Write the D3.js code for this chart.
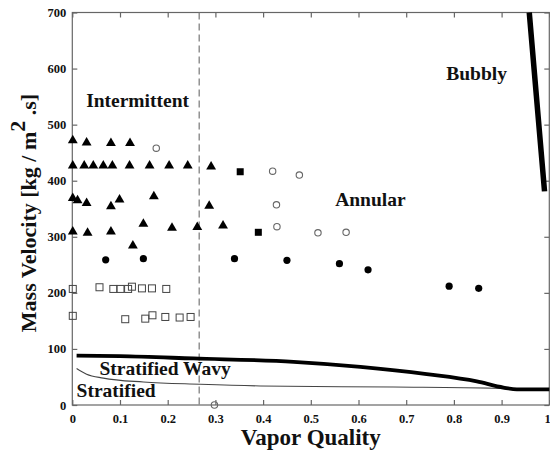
<!DOCTYPE html>
<html>
<head>
<meta charset="utf-8">
<script src="https://cdn.jsdelivr.net/npm/d3@7/dist/d3.min.js"></script>
<style>
  html, body { margin: 0; padding: 0; background: #fff; }
  svg { display: block; }
  text { font-family: "Liberation Serif", "Times New Roman", serif; font-weight: bold; fill: #111; }
</style>
</head>
<body>
<svg id="chart" width="550" height="455"></svg>
<script>
// ---------- data ----------
const xTicks = [0, 0.1, 0.2, 0.3, 0.4, 0.5, 0.6, 0.7, 0.8, 0.9, 1];
const xTickLabels = ["0", "0.1", "0.2", "0.3", "0.4", "0.5", "0.6", "0.7", "0.8", "0.9", "1"];
const yTicks = [0, 100, 200, 300, 400, 500, 600, 700];
const yTickLabels = ["0", "100", "200", "300", "400", "500", "600", "700"];

// filled triangles (intermittent data)
const triangles = [
  [0.001, 472], [0.030, 468], [0.081, 467], [0.121, 467],
  [0.001, 427], [0.025, 427], [0.044, 427], [0.065, 427], [0.084, 427],
  [0.120, 427], [0.162, 427], [0.203, 427], [0.242, 427], [0.291, 425],
  [0.001, 369], [0.011, 365], [0.030, 360], [0.081, 354], [0.099, 366],
  [0.171, 372], [0.287, 355],
  [0.001, 309], [0.032, 307], [0.081, 309], [0.149, 323], [0.209, 316],
  [0.262, 317], [0.316, 320], [0.127, 284]
];
// filled circles
const filledCircles = [
  [0.070, 259], [0.149, 261], [0.340, 261], [0.450, 258],
  [0.560, 252], [0.620, 241], [0.790, 212], [0.852, 208]
];
// open circles
const openCircles = [
  [0.176, 458], [0.420, 417], [0.476, 410], [0.428, 357],
  [0.429, 318], [0.515, 307], [0.574, 308], [0.298, 0]
];
// filled squares
const filledSquares = [[0.352, 416], [0.390, 308]];
// open squares
const openSquares = [
  [0.001, 207], [0.057, 210], [0.086, 207], [0.101, 207], [0.117, 207],
  [0.125, 211], [0.146, 208], [0.167, 208], [0.197, 207],
  [0.001, 159], [0.111, 153], [0.153, 154], [0.168, 160], [0.195, 157],
  [0.225, 156], [0.248, 157]
];
// transition boundaries
const wavyBoundary = [
  [0.009, 88], [0.10, 87], [0.254, 83], [0.464, 77], [0.604, 68],
  [0.743, 55], [0.848, 42], [0.904, 31], [0.932, 28], [1.0, 28]
];
const stratBoundary = [
  [0.009, 65], [0.030, 55], [0.065, 48], [0.149, 41], [0.268, 37],
  [0.394, 34], [0.673, 32], [0.883, 30], [0.93, 28]
];
const bubblyBoundary = [
  [0.958, 700], [0.973, 550], [0.990, 381]
];
const transitionX = 0.266;

// ---------- layout ----------
const svg = d3.select("#chart");
const x = d3.scaleLinear().domain([0, 1]).range([72.3, 549.3]);
const y = d3.scaleLinear().domain([0, 700]).range([405, 12.5]);
const frameColor = "#666";

// frame
svg.append("rect")
  .attr("x", x(0)).attr("y", y(700))
  .attr("width", x(1) - x(0)).attr("height", y(0) - y(700))
  .attr("fill", "none").attr("stroke", frameColor).attr("stroke-width", 1.2);

// axes (ticks inward on all sides)
const tickLen = 5;
const axB = svg.append("g").attr("transform", `translate(0,${y(0)})`)
  .call(d3.axisBottom(x).tickValues(xTicks).tickSize(-tickLen).tickPadding(9)
    .tickFormat((d, i) => xTickLabels[i]));
const axT = svg.append("g").attr("transform", `translate(0,${y(700)})`)
  .call(d3.axisTop(x).tickValues(xTicks).tickSize(-tickLen).tickFormat(""));
const axL = svg.append("g").attr("transform", `translate(${x(0)},0)`)
  .call(d3.axisLeft(y).tickValues(yTicks).tickSize(-tickLen).tickPadding(6)
    .tickFormat((d, i) => yTickLabels[i]));
const axR = svg.append("g").attr("transform", `translate(${x(1)},0)`)
  .call(d3.axisRight(y).tickValues(yTicks).tickSize(-tickLen).tickFormat(""));
[axB, axT, axL, axR].forEach(g => {
  g.attr("font-family", null).attr("font-size", null);
  g.select(".domain").remove();
  g.selectAll(".tick line").attr("stroke", frameColor).attr("stroke-width", 1.2);
  g.selectAll(".tick text")
    .style("font-family", "'Liberation Serif', 'Times New Roman', serif")
    .style("font-weight", "bold").style("font-size", "12.5px").attr("fill", "#111");
});
// keep the last x label inside the picture
axB.selectAll(".tick text").filter((d, i) => i === xTicks.length - 1)
  .attr("text-anchor", "end").attr("dx", 1);

// dashed transition line
svg.append("line")
  .attr("x1", x(transitionX)).attr("x2", x(transitionX))
  .attr("y1", y(700)).attr("y2", y(0))
  .attr("stroke", "#777").attr("stroke-width", 1.2)
  .attr("stroke-dasharray", "7,4");

// boundaries
const line = d3.line().x(d => x(d[0])).y(d => y(d[1])).curve(d3.curveMonotoneX);
svg.append("path").datum(stratBoundary).attr("d", line)
  .attr("fill", "none").attr("stroke", "#444").attr("stroke-width", 1.1);
svg.append("path").datum(wavyBoundary).attr("d", line)
  .attr("fill", "none").attr("stroke", "#000").attr("stroke-width", 3.8);
const lineB = d3.line().x(d => x(d[0])).y(d => y(d[1]));
svg.append("path").datum(bubblyBoundary).attr("d", lineB)
  .attr("fill", "none").attr("stroke", "#000").attr("stroke-width", 5.5);

// markers
const tri = d3.symbol().type(d3.symbolTriangle).size(42);
svg.append("g").selectAll("path").data(triangles).join("path")
  .attr("d", tri).attr("transform", d => `translate(${x(d[0])},${y(d[1])})`)
  .attr("fill", "#000");
svg.append("g").selectAll("circle").data(filledCircles).join("circle")
  .attr("cx", d => x(d[0])).attr("cy", d => y(d[1])).attr("r", 3.6).attr("fill", "#000");
svg.append("g").selectAll("circle").data(openCircles).join("circle")
  .attr("cx", d => x(d[0])).attr("cy", d => y(d[1])).attr("r", 3.2)
  .attr("fill", "none").attr("stroke", "#666").attr("stroke-width", 1.1);
svg.append("g").selectAll("rect").data(filledSquares).join("rect")
  .attr("x", d => x(d[0]) - 3.5).attr("y", d => y(d[1]) - 3.5)
  .attr("width", 7).attr("height", 7).attr("fill", "#000");
svg.append("g").selectAll("rect").data(openSquares).join("rect")
  .attr("x", d => x(d[0]) - 3.5).attr("y", d => y(d[1]) - 3.5)
  .attr("width", 7).attr("height", 7)
  .attr("fill", "none").attr("stroke", "#444").attr("stroke-width", 1);

// region labels
const regionLabels = [
  { t: "Intermittent", x: 0.029, y: 532 },
  { t: "Bubbly", x: 0.784, y: 579 },
  { t: "Annular", x: 0.551, y: 355 },
  { t: "Stratified Wavy", x: 0.057, y: 53.5 },
  { t: "Stratified", x: 0.009, y: 15 }
];
svg.append("g").selectAll("text").data(regionLabels).join("text")
  .attr("x", d => x(d.x)).attr("y", d => y(d.y))
  .attr("font-size", 19.5).text(d => d.t);

// axis titles
svg.append("text")
  .attr("x", x(0.5)).attr("y", 445)
  .attr("text-anchor", "middle").attr("font-size", 23)
  .text("Vapor Quality");

const yt = svg.append("text")
  .attr("transform", "translate(36,213) rotate(-90)")
  .attr("text-anchor", "middle").attr("font-size", 22);
yt.append("tspan").text("Mass Velocity [kg / m");
yt.append("tspan").attr("dy", -11).text("2");
yt.append("tspan").attr("dy", 11).text(" .s]");
</script>
</body>
</html>
